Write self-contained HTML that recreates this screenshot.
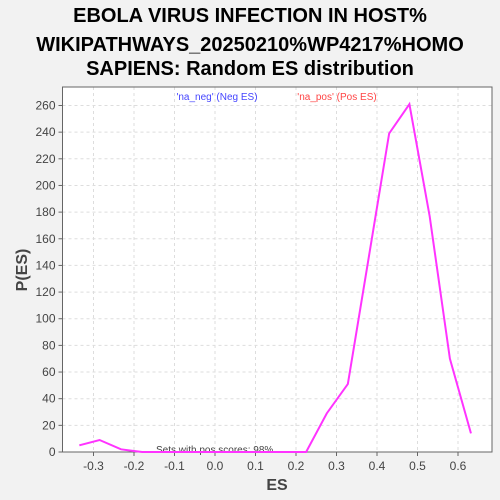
<!DOCTYPE html>
<html><head><meta charset="utf-8"><style>
body{margin:0;background:#f2f2f2;width:500px;height:500px;overflow:hidden;font-family:"Liberation Sans",sans-serif}
</style></head><body>
<svg width="500" height="500" style="font-family:'Liberation Sans',sans-serif;display:block">
<g font-size="20" font-weight="bold" fill="#000" text-anchor="middle">
<text x="250" y="22">EBOLA VIRUS INFECTION IN HOST%</text>
<text x="250" y="51">WIKIPATHWAYS_20250210%WP4217%HOMO</text>
<text x="250" y="75">SAPIENS: Random ES distribution</text>
</g>
<rect x="62.5" y="87" width="429.5" height="365" fill="#fff"/>
<g id="grid"></g>
<rect x="62.5" y="87" width="429.5" height="365" fill="none" stroke="#666"/>
<g id="axes"></g>
<text x="217" y="100" font-size="10" fill="#4444ff" text-anchor="middle">'na_neg' (Neg ES)</text>
<text x="337" y="100" font-size="10" fill="#ff4444" text-anchor="middle">'na_pos' (Pos ES)</text>
<text x="156" y="453" font-size="10" fill="#444">Sets with pos scores: 98%</text>
<polyline id="line" fill="none" stroke="#ff33ff" stroke-width="2"/>
<text x="277" y="490" font-size="16" font-weight="bold" fill="#444" text-anchor="middle">ES</text>
<text transform="translate(27,270) rotate(-90)" font-size="16" font-weight="bold" fill="#444" text-anchor="middle">P(ES)</text>
</svg>
<script>
const esValues=[-0.335,-0.285,-0.232,-0.18,-0.13,-0.08,-0.03,0.02,0.07,0.12,0.17,0.225,0.276,0.328,0.378,0.43,0.48,0.53,0.58,0.632];
const density=[5,9,2,0,0,0,0,0,0,0,0,0,29,51,143,239,261,177,70,14];
const xTicks=[-0.3,-0.2,-0.1,0.0,0.1,0.2,0.3,0.4,0.5,0.6];
const yTicks=[0,20,40,60,80,100,120,140,160,180,200,220,240,260];
const L=62.5,R=492,T=87,B=452;
const xs=v=>215+v*405;
const ys=v=>B-v*1.3327;
const ns="http://www.w3.org/2000/svg";
const grid=document.getElementById('grid'),axes=document.getElementById('axes');
function mk(tag,at,par){const e=document.createElementNS(ns,tag);for(const k in at)e.setAttribute(k,at[k]);par.appendChild(e);return e;}
xTicks.forEach(t=>{const x=xs(t);
const g=mk('line',{x1:x,x2:x,y1:T,y2:B,stroke:'#ddd','stroke-dasharray':'3,3'},grid);


const tk=mk('line',{x1:x,x2:x,y1:B,y2:B+4,stroke:'#666'},axes);


const tx=mk('text',{x:x,y:B+18,'font-size':12,fill:'#444','text-anchor':'middle'},axes);
tx.textContent=t.toFixed(1);

});
yTicks.forEach(t=>{const y=ys(t);
const g=mk('line',{x1:L,x2:R,y1:y,y2:y,stroke:'#ddd','stroke-dasharray':'3,3'},grid);


const tk=mk('line',{x1:L-4,x2:L,y1:y,y2:y,stroke:'#666'},axes);


const tx=mk('text',{x:L-7,y:y+4,'font-size':12,fill:'#444','text-anchor':'end'},axes);
tx.textContent=t;

});
document.getElementById('line').setAttribute('points',esValues.map((v,i)=>xs(v)+','+ys(density[i])).join(' '));
</script>
</body></html>
